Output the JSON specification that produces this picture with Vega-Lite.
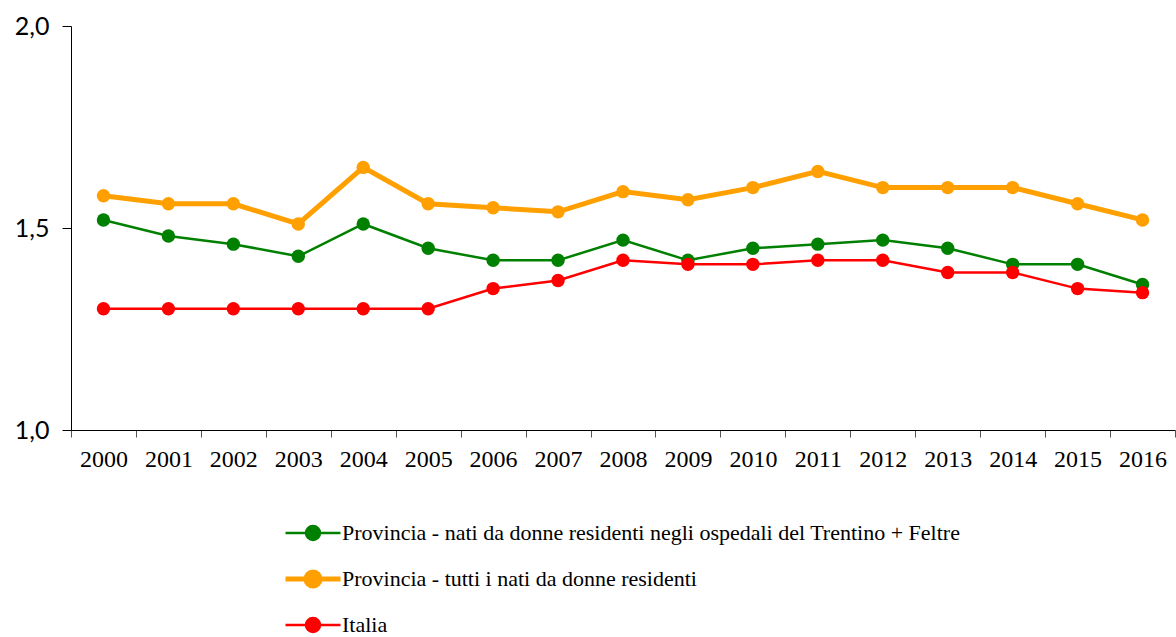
{
  "$schema": "https://vega.github.io/schema/vega-lite/v6.json",
  "autosize": {"type": "none"},
  "padding": {"left": 71, "top": 26, "right": 1, "bottom": 207},
  "width": 1104,
  "height": 404,
  "background": "white",
  "config": {"view": {"stroke": null}},
  "data": {"values": [
    {"year": "2000", "series": "G", "value": 1.52}, {"year": "2001", "series": "G", "value": 1.48}, {"year": "2002", "series": "G", "value": 1.46}, {"year": "2003", "series": "G", "value": 1.43}, {"year": "2004", "series": "G", "value": 1.51}, {"year": "2005", "series": "G", "value": 1.45}, {"year": "2006", "series": "G", "value": 1.42}, {"year": "2007", "series": "G", "value": 1.42}, {"year": "2008", "series": "G", "value": 1.47}, {"year": "2009", "series": "G", "value": 1.42}, {"year": "2010", "series": "G", "value": 1.45}, {"year": "2011", "series": "G", "value": 1.46}, {"year": "2012", "series": "G", "value": 1.47}, {"year": "2013", "series": "G", "value": 1.45}, {"year": "2014", "series": "G", "value": 1.41}, {"year": "2015", "series": "G", "value": 1.41}, {"year": "2016", "series": "G", "value": 1.36},
    {"year": "2000", "series": "O", "value": 1.58}, {"year": "2001", "series": "O", "value": 1.56}, {"year": "2002", "series": "O", "value": 1.56}, {"year": "2003", "series": "O", "value": 1.51}, {"year": "2004", "series": "O", "value": 1.65}, {"year": "2005", "series": "O", "value": 1.56}, {"year": "2006", "series": "O", "value": 1.55}, {"year": "2007", "series": "O", "value": 1.54}, {"year": "2008", "series": "O", "value": 1.59}, {"year": "2009", "series": "O", "value": 1.57}, {"year": "2010", "series": "O", "value": 1.60}, {"year": "2011", "series": "O", "value": 1.64}, {"year": "2012", "series": "O", "value": 1.60}, {"year": "2013", "series": "O", "value": 1.60}, {"year": "2014", "series": "O", "value": 1.60}, {"year": "2015", "series": "O", "value": 1.56}, {"year": "2016", "series": "O", "value": 1.52},
    {"year": "2000", "series": "R", "value": 1.30}, {"year": "2001", "series": "R", "value": 1.30}, {"year": "2002", "series": "R", "value": 1.30}, {"year": "2003", "series": "R", "value": 1.30}, {"year": "2004", "series": "R", "value": 1.30}, {"year": "2005", "series": "R", "value": 1.30}, {"year": "2006", "series": "R", "value": 1.35}, {"year": "2007", "series": "R", "value": 1.37}, {"year": "2008", "series": "R", "value": 1.42}, {"year": "2009", "series": "R", "value": 1.41}, {"year": "2010", "series": "R", "value": 1.41}, {"year": "2011", "series": "R", "value": 1.42}, {"year": "2012", "series": "R", "value": 1.42}, {"year": "2013", "series": "R", "value": 1.39}, {"year": "2014", "series": "R", "value": 1.39}, {"year": "2015", "series": "R", "value": 1.35}, {"year": "2016", "series": "R", "value": 1.34}
  ]},
  "transform": [
    {"lookup": "series", "from": {"data": {"values": [
      {"series": "G", "label": "Provincia - nati da donne residenti negli ospedali del Trentino + Feltre"},
      {"series": "O", "label": "Provincia - tutti i nati da donne residenti"},
      {"series": "R", "label": "Italia"}
    ]}, "key": "series", "fields": ["label"]}}
  ],
  "encoding": {
    "x": {
      "field": "year", "type": "ordinal", "bandPosition": 0.5,
      "scale": {"type": "band", "paddingInner": 0, "paddingOuter": 0},
      "axis": {
        "title": null, "tickBand": "extent", "domainColor": "black", "tickColor": "#555", "tickSize": 7,
        "labelFont": "Liberation Serif", "labelFontSize": 24, "labelColor": "black", "labelPadding": 10, "labelAngle": 0
      }
    },
    "y": {
      "field": "value", "type": "quantitative",
      "scale": {"domain": [1, 2]},
      "axis": {
        "title": null, "values": [1, 1.5, 2], "grid": false, "domainColor": "black", "tickColor": "black", "tickSize": 9,
        "labelFont": "Lato", "labelFontSize": 25, "labelColor": "black", "labelPadding": 13,
        "labelExpr": "replace(format(datum.value, '.1f'), '.', ',')"
      }
    },
    "color": {
      "field": "label", "type": "nominal",
      "scale": {
        "domain": ["Provincia - nati da donne residenti negli ospedali del Trentino + Feltre", "Provincia - tutti i nati da donne residenti", "Italia"],
        "range": ["#008000", "#FFA000", "#FF0000"]
      },
      "legend": {
        "title": null, "orient": "none", "legendX": 231, "legendY": 496, "direction": "vertical",
        "symbolType": "M-1.375,0L1.375,0M-0.35,0A0.35,0.35 0 1,0 0.35,0A0.35,0.35 0 1,0 -0.35,0Z",
        "symbolSize": 1600, "symbolStrokeWidth": 2.5, "labelOffset": 18, "rowPadding": 17,
        "labelFont": "Liberation Serif", "labelFontSize": 22, "labelColor": "black", "labelLimit": 1000,
        "encode": {"symbols": {"update": {
          "fill": {"scale": "color", "field": "value"},
          "stroke": {"scale": "color", "field": "value"},
          "strokeWidth": {"signal": "datum.value === 'Provincia - tutti i nati da donne residenti' ? 5 : 2.5"},
          "opacity": {"value": 1}
        }}}
      }
    }
  },
  "layer": [
    {
      "mark": {"type": "line", "clip": false},
      "encoding": {
        "strokeWidth": {"condition": {"test": "datum.series === 'O'", "value": 5}, "value": 2.5}
      }
    },
    {
      "mark": {"type": "point", "filled": true, "size": 180, "opacity": 1}
    }
  ]
}
